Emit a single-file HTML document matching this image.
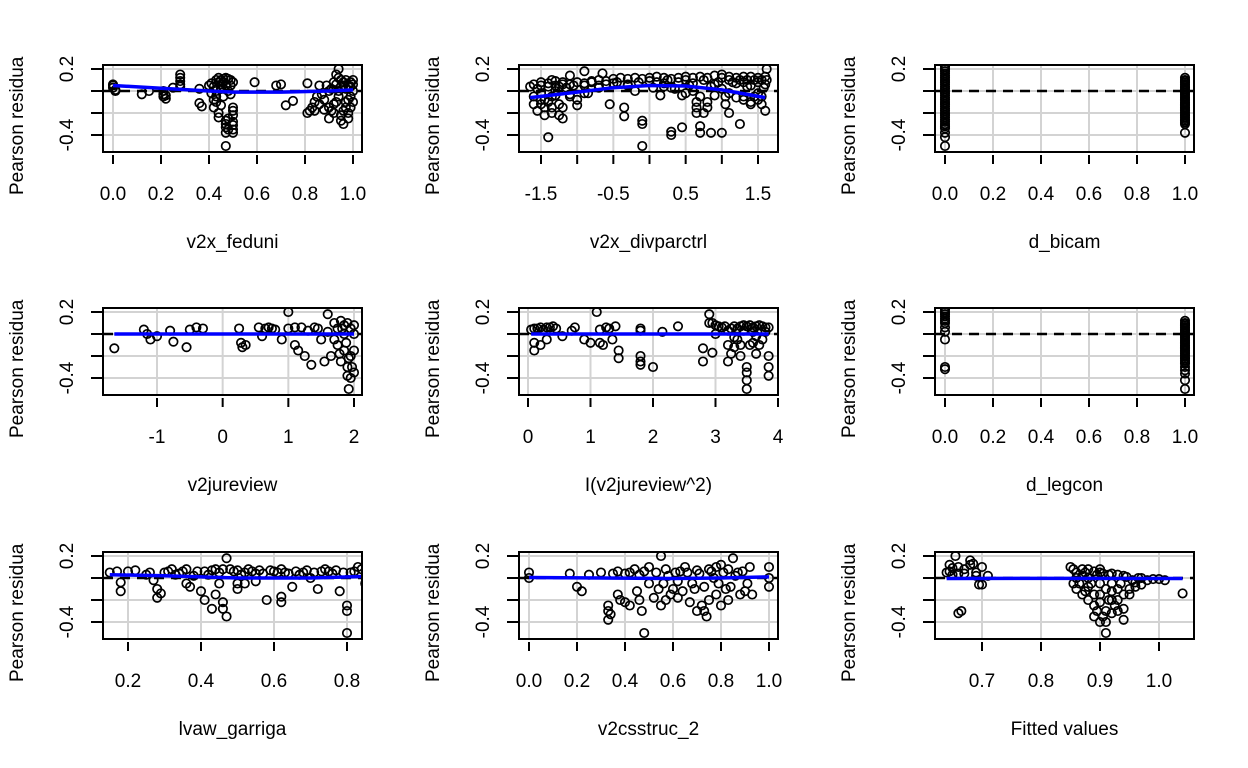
<!DOCTYPE html>
<html><head><meta charset="utf-8"><style>
html,body{margin:0;padding:0;background:#fff;}
svg{display:block;font-family:"Liberation Sans",Arial,sans-serif;}
</style></head><body>
<svg id="chart" width="1248" height="768" viewBox="0 0 1248 768"></svg>
<script>
// ---- data ----
const titles = ["v2x_feduni","v2x_divparctrl","d_bicam","v2jureview","I(v2jureview^2)","d_legcon","lvaw_garriga","v2csstruc_2","Fitted values"];
const xTicks1 = [0,0.2,0.4,0.6,0.8,1.0];
const xTickLabels1 = ["0.0","0.2","0.4","0.6","0.8","1.0"];
const xTicks2 = [-1.5,-1,-0.5,0,0.5,1,1.5];
const xTickLabels2 = ["-1.5","","-0.5","","0.5","","1.5"];
const xTicks4 = [-1,0,1,2];
const xTickLabels4 = ["-1","0","1","2"];
const xTicks5 = [0,1,2,3,4];
const xTickLabels5 = ["0","1","2","3","4"];
const xTicks7 = [0.2,0.4,0.6,0.8];
const xTickLabels7 = ["0.2","0.4","0.6","0.8"];
const xTicks9 = [0.7,0.8,0.9,1.0];
const xTickLabels9 = ["0.7","0.8","0.9","1.0"];
const yTicks = [0.2,0,-0.2,-0.4];

const pts1 = [[0,0.06],[0,0.05],[0,0.03],[0.01,0.01],[0.01,0.0],[0.12,-0.03],[0.15,0.0],[0.21,0.0],[0.21,-0.03],[0.21,-0.05],[0.22,-0.07],[0.22,-0.04],[0.25,0.03],[0.28,0.15],[0.28,0.12],[0.28,0.09],[0.28,0.06],[0.28,0.04],[0.36,0.02],[0.36,-0.11],[0.37,-0.14],[0.4,0.05],[0.41,-0.02],[0.42,-0.08],[0.42,-0.15],[0.43,0.1],[0.43,-0.05],[0.44,0.08],[0.44,-0.2],[0.45,0.1],[0.45,-0.13],[0.46,0.11],[0.46,0.02],[0.47,0.12],[0.47,-0.3],[0.47,-0.38],[0.48,-0.25],[0.48,-0.35],[0.49,0.1],[0.49,0.05],[0.5,-0.15],[0.5,-0.22],[0.5,-0.28],[0.5,-0.35],[0.5,-0.38],[0.5,-0.18],[0.5,-0.31],[0.47,-0.33],[0.47,-0.27],[0.44,-0.24],[0.47,-0.5],[0.42,0.04],[0.45,0.06],[0.48,0.0],[0.46,-0.05],[0.43,-0.1],[0.5,0.08],[0.44,0.12],[0.46,0.08],[0.48,0.11],[0.45,0.02],[0.43,0.0],[0.41,0.07],[0.49,-0.03],[0.47,0.05],[0.59,0.08],[0.68,0.05],[0.7,0.06],[0.72,-0.13],[0.75,-0.09],[0.81,0.07],[0.81,-0.2],[0.82,-0.18],[0.83,-0.15],[0.84,-0.1],[0.85,-0.05],[0.86,0.05],[0.88,-0.08],[0.89,0.05],[0.9,-0.15],[0.9,-0.25],[0.91,0.02],[0.92,-0.2],[0.93,0.15],[0.93,-0.1],[0.94,0.2],[0.94,0.0],[0.95,0.1],[0.95,-0.22],[0.96,0.08],[0.96,-0.3],[0.97,0.1],[0.97,-0.1],[0.98,0.05],[0.98,-0.2],[0.99,0.08],[0.99,-0.05],[1.0,0.1],[1.0,0.0],[1.0,-0.1],[0.92,-0.12],[0.95,-0.27],[0.97,-0.15],[0.99,0.04],[0.96,0.05],[0.98,-0.25],[0.94,-0.05],[0.91,-0.18],[0.93,0.06],[0.95,0.04],[0.97,0.02],[0.99,-0.15],[1.0,0.06],[0.96,-0.18],[0.98,-0.08],[0.94,0.12],[0.92,0.08],[0.9,0.0],[0.88,-0.17],[0.86,-0.12],[0.84,-0.18],[0.87,-0.03]];
const line1 = [[0,0.05],[0.2,0.025],[0.4,0.0],[0.5,-0.01],[0.7,-0.01],[0.9,0.0],[1.0,0.01]];

const pts2 = [[-1.65,0.04],[-1.6,-0.05],[-1.6,-0.12],[-1.55,0.02],[-1.55,-0.18],[-1.5,0.05],[-1.5,-0.08],[-1.45,-0.15],[-1.45,-0.22],[-1.4,0.04],[-1.4,-0.1],[-1.4,-0.42],[-1.35,0.1],[-1.35,-0.2],[-1.3,0.05],[-1.3,-0.04],[-1.25,-0.22],[-1.2,0.06],[-1.2,-0.15],[-1.1,0.14],[-1.1,-0.05],[-1.05,0.05],[-1.0,-0.13],[-1.0,-0.08],[-0.9,0.18],[-0.9,0.05],[-0.85,-0.02],[-0.7,0.05],[-0.65,0.16],[-0.55,-0.12],[-0.5,0.07],[-0.45,0.08],[-0.35,-0.15],[-0.35,-0.23],[-0.3,0.05],[-0.2,0.0],[-0.15,0.08],[-0.1,-0.27],[-0.1,-0.3],[-0.1,-0.5],[0.0,0.09],[0.1,0.08],[0.15,-0.04],[0.2,0.07],[0.25,0.1],[0.3,-0.37],[0.3,-0.4],[0.35,0.02],[0.4,0.08],[0.45,-0.04],[0.45,-0.33],[0.5,0.1],[0.6,0.07],[0.65,-0.1],[0.65,-0.2],[0.7,-0.32],[0.7,-0.38],[0.75,0.1],[0.8,-0.1],[0.85,-0.38],[0.9,0.06],[0.95,0.08],[1.0,-0.38],[1.0,0.15],[1.05,-0.05],[1.1,-0.2],[1.1,0.1],[1.15,0.08],[1.2,-0.06],[1.25,-0.3],[1.3,0.08],[1.3,-0.08],[1.35,0.1],[1.4,-0.12],[1.4,0.05],[1.45,0.1],[1.5,-0.08],[1.5,0.08],[1.55,0.1],[1.6,-0.18],[1.6,0.06],[1.62,0.2],[1.62,0.1],[-0.8,0.08],[-0.6,0.06],[0.05,0.03],[0.3,0.03],[0.55,0.05],[0.85,0.04],[1.2,0.07],[-1.2,-0.25],[1.55,-0.05],
[-1.6,0.06],[-1.5,0.08],[-1.4,0.07],[-1.3,0.09],[-1.2,0.08],[-1.1,0.06],[-1.0,0.08],[-0.9,0.07],[-0.8,0.09],[-0.7,0.1],[-0.6,0.09],[-0.5,0.11],[-0.4,0.12],[-0.3,0.11],[-0.2,0.12],[-0.1,0.11],[0.0,0.12],[0.1,0.13],[0.2,0.12],[0.3,0.11],[0.4,0.12],[0.5,0.13],[0.6,0.12],[0.7,0.13],[0.8,0.12],[0.9,0.14],[1.0,0.12],[1.1,0.13],[1.2,0.12],[1.3,0.13],[1.4,0.13],[1.5,0.12],[1.6,0.13],[-1.5,-0.02],[-1.3,0.0],[-1.1,-0.03],[-0.9,-0.02],[-0.7,0.03],[-0.3,0.06],[0.2,0.04],[0.5,-0.02],[0.7,-0.05],[0.9,-0.04],[1.1,-0.02],[1.3,-0.05],[1.5,-0.02],[1.4,-0.1],[1.55,-0.12],[-1.45,-0.08],[-1.35,-0.05],[0.6,0.0],[1.0,0.02],[-1.25,0.04],[-1.15,0.03],[1.25,0.1],[1.35,0.04],[1.45,-0.05],[1.58,0.03],[0.75,-0.2],[0.8,-0.15],[0.65,-0.15],[1.05,-0.12],[-1.5,-0.12],[-1.35,-0.15],[-1.25,-0.12]];
const line2 = [[-1.65,-0.06],[-1.0,-0.01],[-0.5,0.03],[0.0,0.05],[0.5,0.045],[1.0,0.01],[1.6,-0.06]];

const pts3 = [[0,0.22],[0,0.18],[0,0.14],[0,0.1],[0,0.06],[0,0.02],[0,-0.02],[0,-0.06],[0,-0.1],[0,-0.14],[0,-0.18],[0,-0.22],[0,-0.26],[0,-0.3],[0,-0.34],[0,-0.38],[0,-0.42],[0,-0.5],[0,0.2],[0,0.16],[0,0.12],[0,0.08],[0,0.04],[0,0.0],[0,-0.04],[0,-0.08],[0,-0.12],[0,-0.16],[0,-0.2],[0,-0.24],[0,-0.28],[0,-0.32],[1,0.12],[1,0.09],[1,0.06],[1,0.03],[1,0.0],[1,-0.03],[1,-0.06],[1,-0.09],[1,-0.12],[1,-0.15],[1,-0.18],[1,-0.21],[1,-0.24],[1,-0.27],[1,-0.3],[1,-0.38],[1,0.1],[1,0.075],[1,0.045],[1,0.015],[1,-0.015],[1,-0.045],[1,-0.075],[1,-0.105],[1,-0.135],[1,-0.165],[1,-0.195],[1,-0.225],[1,-0.255],[1,-0.285]];
const line3 = [];

const pts4 = [[-1.65,-0.13],[-1.2,0.04],[-1.15,0.0],[-1.1,-0.05],[-1.0,-0.02],[-0.8,0.03],[-0.75,-0.07],[-0.55,-0.12],[-0.5,0.04],[-0.4,0.06],[-0.3,0.05],[0.25,0.05],[0.28,-0.08],[0.3,-0.12],[0.35,-0.1],[0.55,0.06],[0.6,-0.02],[0.65,0.05],[0.7,0.06],[0.75,0.05],[0.9,-0.05],[1.0,0.2],[1.0,0.05],[1.1,-0.1],[1.15,-0.15],[1.2,0.06],[1.25,-0.2],[1.35,-0.28],[1.45,0.05],[1.6,0.18],[1.65,-0.2],[1.7,0.1],[1.75,0.05],[1.75,-0.1],[1.8,-0.25],[1.8,0.12],[1.85,0.0],[1.85,-0.15],[1.9,0.1],[1.9,-0.3],[1.9,-0.38],[1.92,-0.5],[1.95,0.05],[1.95,-0.2],[1.95,-0.4],[2.0,0.08],[2.0,-0.15],[2.0,-0.35],[1.3,0.03],[1.5,-0.05],[1.55,-0.25],[1.6,0.02],[1.7,-0.05],[1.85,0.08],[1.88,-0.08],[1.92,-0.22],[1.97,-0.3],[2.0,0.0],[1.78,-0.18],[1.82,0.05],[1.4,0.06],[1.1,0.06],[0.8,0.04]];
const line4 = [[-1.65,0.0],[0,0.0],[1.0,0.0],[2.0,0.0]];

const pts5 = [[0.05,0.04],[0.1,-0.08],[0.1,-0.15],[0.15,0.05],[0.2,-0.1],[0.3,0.06],[0.3,-0.05],[0.35,0.06],[0.55,-0.02],[0.7,0.03],[0.75,0.06],[0.9,-0.05],[1.0,-0.08],[1.1,0.2],[1.15,-0.08],[1.15,0.04],[1.2,-0.1],[1.3,0.05],[1.35,-0.05],[1.45,-0.15],[1.45,-0.22],[1.8,-0.2],[1.8,-0.25],[1.8,0.05],[2.0,-0.3],[2.15,0.02],[2.4,0.07],[2.8,-0.13],[2.8,-0.25],[2.9,0.18],[2.95,0.1],[2.95,-0.17],[3.0,0.0],[3.1,0.06],[3.2,-0.1],[3.2,-0.25],[3.25,0.05],[3.3,-0.12],[3.35,-0.05],[3.4,-0.2],[3.45,0.08],[3.5,-0.35],[3.5,-0.5],[3.55,-0.1],[3.6,0.06],[3.65,-0.18],[3.7,0.08],[3.75,-0.05],[3.8,0.06],[3.85,-0.2],[3.85,-0.3],[3.85,-0.38],[3.35,0.05],[3.0,0.08],[3.55,0.08],[3.7,-0.1],
[0.1,0.05],[0.2,0.06],[0.25,0.04],[0.4,0.07],[0.45,0.05],[1.25,0.06],[1.4,0.07],[1.8,-0.28],[1.8,0.03],[2.9,0.1],[3.05,0.07],[3.15,0.07],[3.3,0.07],[3.4,0.07],[3.5,0.07],[3.65,0.07],[3.75,0.07],[3.85,0.06],[3.2,0.03],[3.45,0.03],[3.6,0.02],[3.8,0.02],[3.25,-0.18],[3.4,-0.1],[3.5,-0.42],[3.5,-0.3],[3.6,-0.08],[3.65,-0.02],[3.3,-0.03]];
const line5 = [[0.05,0.0],[2,0.0],[3.85,0.0]];

const pts6 = [[0,0.22],[0,0.18],[0,0.14],[0,0.1],[0,0.06],[0,0.02],[0,-0.05],[0,-0.3],[0,-0.32],[0,0.2],[0,0.16],[0,0.12],[1,0.12],[1,0.09],[1,0.06],[1,0.03],[1,0.0],[1,-0.03],[1,-0.06],[1,-0.09],[1,-0.12],[1,-0.15],[1,-0.18],[1,-0.21],[1,-0.24],[1,-0.27],[1,-0.3],[1,-0.33],[1,-0.36],[1,-0.42],[1,-0.5],[1,0.1],[1,0.075],[1,0.045],[1,0.015],[1,-0.015],[1,-0.045],[1,-0.075],[1,-0.105],[1,-0.135],[1,-0.165],[1,-0.195],[1,-0.225],[1,-0.255]];
const line6 = [];

const pts7 = [[0.15,0.05],[0.17,0.06],[0.18,-0.04],[0.18,-0.12],[0.2,0.06],[0.25,0.03],[0.27,-0.02],[0.28,-0.1],[0.28,-0.18],[0.3,0.05],[0.32,0.08],[0.33,0.03],[0.35,0.06],[0.37,-0.08],[0.4,-0.12],[0.41,-0.2],[0.41,0.06],[0.43,-0.28],[0.44,0.08],[0.45,-0.05],[0.46,-0.28],[0.47,0.18],[0.47,-0.35],[0.48,0.08],[0.5,-0.05],[0.52,0.05],[0.55,0.04],[0.58,-0.2],[0.6,0.06],[0.62,-0.22],[0.63,0.05],[0.65,-0.08],[0.7,0.0],[0.72,-0.1],[0.75,0.06],[0.78,-0.12],[0.8,-0.25],[0.8,-0.5],[0.81,0.05],[0.83,0.1],[0.85,-0.05],[0.86,0.12],[0.88,-0.2],[0.88,-0.3],[0.9,0.2],[0.9,0.0],[0.9,-0.12],[0.52,-0.05],[0.38,0.02],[0.68,0.05],
[0.22,0.07],[0.26,0.05],[0.29,-0.14],[0.31,0.06],[0.34,0.04],[0.36,0.08],[0.39,0.06],[0.42,0.03],[0.43,0.07],[0.45,0.05],[0.46,0.08],[0.49,0.06],[0.5,0.07],[0.51,0.03],[0.53,0.08],[0.54,0.06],[0.56,0.07],[0.57,0.04],[0.59,0.07],[0.61,0.05],[0.62,0.08],[0.64,0.04],[0.66,0.06],[0.67,0.03],[0.69,0.07],[0.71,0.05],[0.73,0.06],[0.74,0.08],[0.76,0.04],[0.77,0.07],[0.79,0.05],[0.82,0.06],[0.84,0.08],[0.87,0.06],[0.89,0.08],[0.44,-0.15],[0.46,-0.22],[0.5,-0.1],[0.62,-0.17],[0.8,-0.3],[0.89,-0.25],[0.86,-0.15],[0.36,-0.05],[0.55,-0.03]];
const line7 = [[0.15,0.03],[0.3,0.02],[0.5,0.0],[0.7,0.0],[0.9,0.02]];

const pts8 = [[0,0.05],[0,0.0],[0.17,0.04],[0.2,-0.08],[0.22,-0.12],[0.3,0.05],[0.33,-0.3],[0.33,-0.38],[0.35,0.04],[0.37,-0.15],[0.4,-0.22],[0.42,0.05],[0.45,-0.12],[0.47,-0.3],[0.48,-0.5],[0.5,0.1],[0.52,-0.18],[0.55,0.2],[0.55,-0.25],[0.58,0.02],[0.6,-0.1],[0.62,-0.18],[0.65,0.1],[0.68,-0.05],[0.7,0.07],[0.72,-0.25],[0.74,-0.35],[0.75,0.08],[0.78,-0.15],[0.8,0.12],[0.82,-0.1],[0.85,0.18],[0.87,0.05],[0.9,-0.12],[0.92,0.1],[1.0,0.1],[1.0,-0.08],[0.63,0.06],[0.56,-0.05],[0.67,-0.22],[0.77,0.0],[0.83,-0.2],
[0.25,0.03],[0.37,0.06],[0.4,0.04],[0.44,0.08],[0.46,0.03],[0.48,0.06],[0.5,-0.05],[0.53,0.05],[0.54,-0.1],[0.57,0.08],[0.59,-0.15],[0.61,0.05],[0.62,-0.03],[0.64,-0.12],[0.66,0.05],[0.69,-0.1],[0.71,0.04],[0.73,-0.08],[0.75,-0.2],[0.76,0.06],[0.78,0.1],[0.79,-0.05],[0.8,-0.25],[0.81,0.05],[0.83,0.08],[0.84,-0.08],[0.86,0.02],[0.88,-0.15],[0.89,0.06],[0.91,-0.05],[0.93,-0.15],[1.0,0.0],[0.33,-0.25],[0.34,-0.33],[0.38,-0.2],[0.42,-0.25],[0.46,-0.2],[0.7,-0.3],[0.73,-0.3],[0.57,-0.2]];
const line8 = [[0,0.005],[0.3,0.0],[0.6,-0.005],[0.8,0.0],[1.0,0.01]];

const pts9 = [[0.64,0.05],[0.645,0.12],[0.65,0.09],[0.655,0.2],[0.66,0.04],[0.66,-0.32],[0.665,-0.3],[0.67,0.08],[0.68,0.16],[0.685,0.13],[0.69,0.05],[0.695,-0.06],[0.70,0.1],[0.71,0.02],[0.85,0.1],[0.855,-0.05],[0.86,0.05],[0.86,-0.1],[0.87,-0.15],[0.87,0.08],[0.88,-0.2],[0.88,0.0],[0.89,-0.35],[0.89,-0.25],[0.9,-0.4],[0.9,0.05],[0.91,-0.3],[0.91,-0.5],[0.92,-0.2],[0.92,0.04],[0.93,-0.3],[0.93,-0.1],[0.94,-0.38],[0.94,0.02],[0.95,-0.15],[0.96,-0.08],[0.97,0.0],[0.98,-0.02],[1.0,-0.01],[1.04,-0.14],[0.9,-0.15],[0.92,-0.05],[0.88,-0.08],[0.9,0.08],
[0.645,0.06],[0.65,0.03],[0.66,0.1],[0.67,0.04],[0.68,0.12],[0.69,0.02],[0.7,-0.06],[0.855,0.08],[0.86,0.0],[0.865,-0.05],[0.87,0.02],[0.875,-0.12],[0.88,0.08],[0.885,-0.05],[0.89,0.06],[0.89,-0.15],[0.895,-0.3],[0.9,-0.05],[0.9,-0.22],[0.905,0.04],[0.905,-0.35],[0.91,-0.1],[0.91,-0.4],[0.915,0.03],[0.92,-0.12],[0.92,-0.32],[0.925,-0.25],[0.93,0.03],[0.93,-0.2],[0.935,-0.05],[0.94,-0.28],[0.945,0.01],[0.95,-0.1],[0.955,-0.02],[0.96,-0.04],[0.965,0.0],[0.97,-0.06],[0.99,-0.01],[1.01,-0.02],[0.875,0.05],[0.895,0.03],[0.915,-0.2],[0.94,-0.15]];
const line9 = [[0.64,-0.005],[0.85,-0.003],[1.04,-0.005]];

// ---- layout ----
const svg = document.getElementById('chart');
const NS = 'http://www.w3.org/2000/svg';
function mk(tag, attrs, parent){const e=document.createElementNS(NS,tag);for(const k in attrs)e.setAttribute(k,attrs[k]);(parent||svg).appendChild(e);return e;}
const W=259,H=87;
const panels=[
 {ox:103,oy:65,a:[0,10],b:[1,250],t:xTicks1,l:xTickLabels1,p:pts1,ln:line1},
 {ox:519,oy:65,a:[-1.5,22],b:[1.5,239],t:xTicks2,l:xTickLabels2,p:pts2,ln:line2},
 {ox:935,oy:65,a:[0,10],b:[1,250],t:xTicks1,l:xTickLabels1,p:pts3,ln:line3},
 {ox:103,oy:308,a:[-1,54],b:[2,251],t:xTicks4,l:xTickLabels4,p:pts4,ln:line4},
 {ox:519,oy:308,a:[0,9],b:[4,259],t:xTicks5,l:xTickLabels5,p:pts5,ln:line5},
 {ox:935,oy:308,a:[0,10],b:[1,250],t:xTicks1,l:xTickLabels1,p:pts6,ln:line6},
 {ox:103,oy:552,a:[0.2,25],b:[0.8,244],t:xTicks7,l:xTickLabels7,p:pts7,ln:line7},
 {ox:519,oy:552,a:[0,10],b:[1,250],t:xTicks1,l:xTickLabels1,p:pts8,ln:line8},
 {ox:935,oy:552,a:[0.7,47],b:[1.0,224],t:xTicks9,l:xTickLabels9,p:pts9,ln:line9}
];
panels.forEach((P,i)=>{
  const g=mk('g',{});
  
  
  const xs=v=>P.ox+P.a[1]+(v-P.a[0])*(P.b[1]-P.a[1])/(P.b[0]-P.a[0]);
  const ys=v=>P.oy+26-v*110;
  const clip=mk('clipPath',{id:'c'+i},g);
  mk('rect',{x:P.ox,y:P.oy,width:W,height:H},clip);
  P.t.forEach(t=>{const e=mk('line',{x1:xs(t),x2:xs(t),y1:P.oy,y2:P.oy+H,stroke:'#d3d3d3','stroke-width':2},g);
    });
  yTicks.forEach(t=>{const e=mk('line',{x1:P.ox,x2:P.ox+W,y1:ys(t),y2:ys(t),stroke:'#d3d3d3','stroke-width':2},g);
    });
  const z=mk('line',{x1:P.ox,x2:P.ox+W,y1:ys(0),y2:ys(0),stroke:'#000','stroke-width':2.5,'stroke-dasharray':'10,7'},g);
  
  const pg=mk('g',{'clip-path':'url(#c'+i+')'},g);
  P.p.forEach(d=>{const c=mk('circle',{cx:xs(d[0]),cy:ys(d[1]),r:4.2,fill:'none',stroke:'#000','stroke-width':1.7},pg);
    });
  if(P.ln.length){const pl=mk('polyline',{points:P.ln.map(d=>xs(d[0])+','+ys(d[1])).join(' '),fill:'none',stroke:'#0000ff','stroke-width':3.5},pg);
    }
  const box=mk('rect',{x:P.ox,y:P.oy,width:W,height:H,fill:'none',stroke:'#000','stroke-width':2},g);
  
  P.t.forEach((t,k)=>{const e=mk('line',{x1:xs(t),x2:xs(t),y1:P.oy+H+3,y2:P.oy+H+12,stroke:'#000','stroke-width':2},g);
    
    if(P.l[k]){const tx=mk('text',{x:xs(t),y:P.oy+135,'text-anchor':'middle','font-size':19},g);tx.textContent=P.l[k];
      }});
  yTicks.forEach(t=>{const e=mk('line',{x1:P.ox-12,x2:P.ox-1,y1:ys(t),y2:ys(t),stroke:'#000','stroke-width':2},g);
    });
  [[0.2,"0.2"],[-0.4,"-0.4"]].forEach(d=>{const x=P.ox-30;const tx=mk('text',{x:x,y:ys(d[0]),'text-anchor':'middle','font-size':19,transform:'rotate(-90 '+x+' '+ys(d[0])+')'},g);tx.textContent=d[1];
    });
  const yt=mk('text',{x:P.ox-80,y:P.oy+130,'text-anchor':'start','font-size':19,transform:'rotate(-90 '+(P.ox-80)+' '+(P.oy+130)+')'},g);yt.textContent='Pearson residua';
  
  const xt=mk('text',{x:P.ox+W/2,y:P.oy+183,'text-anchor':'middle','font-size':19},g);xt.textContent=titles[i];
  
});
</script>
</body></html>
